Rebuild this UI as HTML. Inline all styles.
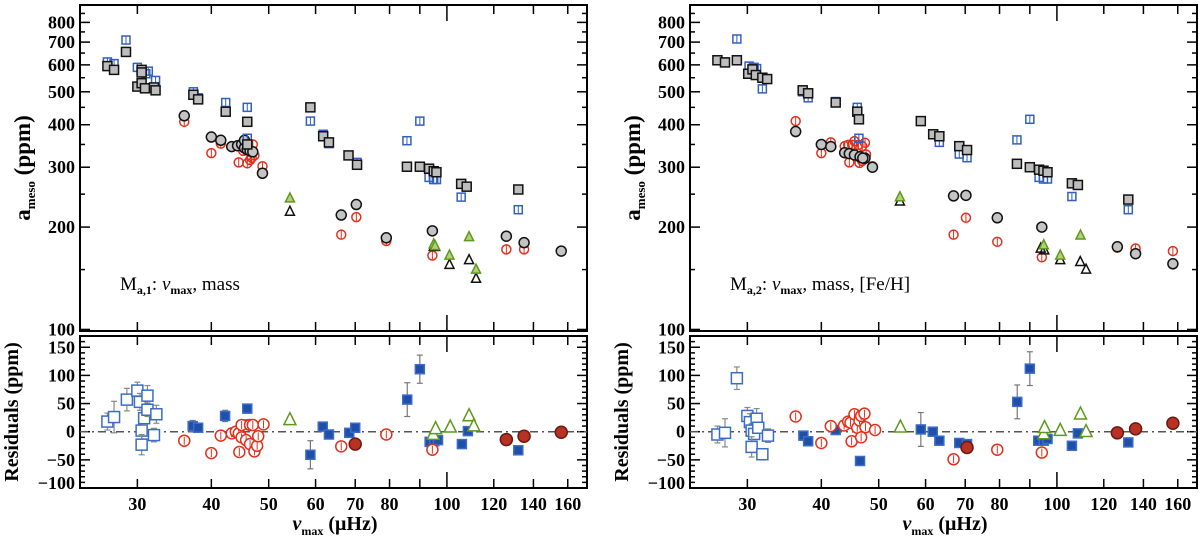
<!DOCTYPE html>
<html><head><meta charset="utf-8"><style>
html,body{margin:0;padding:0;background:#fff;width:1200px;height:538px;overflow:hidden}
svg{display:block;font-family:"Liberation Serif",serif}
</style></head><body>
<svg id="fig" width="1200" height="538" viewBox="0 0 1200 538"></svg>
<script>
// ---------- data (nu_max [uHz], amplitude / residual [ppm], error) ----------
const L_graySq=[[26.7,595],[27.4,580],[28.7,655],[30.5,580],[30.5,570],[30,518],[30.5,530],[30.9,512],[32,515],[32.2,505],[37.3,490],[38,475],[42.3,437],[46,408],[46,350],[58.8,450],[61.8,370],[63.2,355],[68.2,325],[70.5,305],[85.6,301],[90,301],[93.3,297],[95,292],[96,290],[105.7,268],[108,263],[132,258]];
const L_blueSq=[[26.7,612],[27.4,605],[28.7,710],[30,590],[31,565],[31.3,575],[32.2,540],[37.3,500],[38,480],[42.3,465],[46,450],[46,365],[58.8,410],[61.8,375],[63.2,352],[70.5,310],[85.6,359],[90,410],[93.3,280],[95,276],[96,276],[105.7,245],[132,225]];
const L_grayCirc=[[36,425],[40,368],[41.5,360],[43.3,345],[44.3,347],[45,350],[45.5,342],[46,338],[46.5,335],[47,333],[45.5,360],[48.8,288],[66.3,217],[70.3,233],[79,186],[94.5,195],[126,188],[135,180],[156,170]];
const L_redCirc=[[36,408],[40,330],[41.5,352],[44.5,310],[46,308],[46.5,315],[47,350],[47.3,325],[45.3,335],[48.8,302],[46.8,320],[66.3,190],[70.3,214],[79,182],[94.5,165],[126,172],[135,172]];
const L_greenTri=[[54.3,243],[95,178],[95.5,176],[101,165],[109,187],[112,150]];
const L_blackTri=[[54.3,222],[95,175],[95.5,175],[101,155],[109,160],[112,141]];
const L_resBlueOpen=[[26.7,18,15],[27.4,26,28],[28.8,57,20],[30,73,15],[30.3,53,15],[30.5,2,15],[30.5,-23,18],[30.8,24,12],[31.2,64,18],[31.2,39,12],[32.3,31,16],[32,-6,12]];
const L_resBlueFill=[[37.2,10,10],[38,7,8],[42.2,28,10],[46,41,8],[46,13,6],[58.8,-41,25],[61.7,9,0],[63.2,-5,0],[68.4,-2,0],[70,7,0],[85.7,57,30],[90,111,25],[93.5,-18,0],[95.2,-17,0],[96.6,-15,0],[106,-22,0],[108.5,1,0],[132,-33,0]];
const L_resRedOpen=[[36,-16],[40,-38],[41.5,-7],[43.3,-3],[44,0],[44.5,-3],[45,-10],[44.6,-36],[45,12],[46.5,12],[47,12],[49,13],[45.8,-15],[46.5,-22],[47.3,-35],[47.8,-25],[48,-8],[66.3,-26],[79,-5],[94.5,-32]];
const L_resRedFill=[[70,-22],[126,-14],[135,-8],[156,-1]];
const L_resGreenTri=[[54.3,21],[94.8,-5],[95.7,5],[101.3,8],[109,28],[111,10]];

const R_graySq=[[26.7,619],[27.5,610],[28.8,619],[30.1,565],[30.6,582],[31,560],[31.8,550],[32.4,545],[37.2,505],[38,495],[42.3,465],[46,437],[46.3,415],[58.9,410],[61.8,375],[63.3,370],[68.4,346],[70.5,337],[85.6,307],[90,300],[93.3,295],[94.9,293],[96.4,290],[106,269],[108.5,266],[132,241]];
const R_blueSq=[[26.7,620],[27.5,612],[28.8,715],[30.2,595],[30.8,590],[31.1,585],[31.8,510],[37.2,500],[38,480],[42.3,468],[46,450],[46.3,365],[58.9,410],[63.3,355],[68.4,328],[70.5,320],[85.6,361],[90,415],[93.3,280],[94.9,277],[96.4,277],[106,246],[132,225]];
const R_grayCirc=[[36.2,382],[40,350],[41.5,345],[43.8,331],[44.6,329],[45.5,326],[46.5,322],[47.4,319],[47,319],[48.8,300],[66.9,247],[70.2,248],[79.3,213],[94.3,200],[126.5,175],[135.8,167],[157,156]];
const R_redCirc=[[36.2,410],[40,330],[41.5,355],[43.8,346],[44.4,349],[45.1,349],[45.5,358],[46.2,349],[46.9,346],[47.4,354],[47.6,327],[44.6,310],[46.4,309],[46.9,313],[48.8,302],[66.9,190],[70.2,213],[79.3,181],[94.3,163],[126.5,174],[135.8,173],[157,170]];
const R_greenTri=[[54.3,245],[95,177],[101.3,165],[109.6,189]];
const R_blackTri=[[54.3,238],[93.9,173],[95.2,171],[101.3,160],[109.5,158],[112,150]];
const R_resBlueOpen=[[26.7,-5,15],[27.5,-2,25],[28.8,95,20],[30,28,15],[30.3,17,15],[30.5,2,12],[30.8,-4,10],[30.5,-27,18],[31.1,23,18],[31.3,7,10],[31.8,-40,10],[32.5,-7,12]];
const R_resBlueFill=[[37.3,-7,8],[38,-17,8],[42.3,3,8],[46.5,-52,6],[46.5,13,0],[58.9,4,30],[61.7,0,0],[63.3,-16,0],[68.4,-20,0],[70.5,-22,0],[85.7,53,30],[90,112,30],[93,-16,0],[95,-16,0],[96.4,-13,0],[106,-25,0],[108.5,-3,0],[132,-19,0]];
const R_resRedOpen=[[36.2,27],[40,-20],[41.5,10],[43.7,11],[44.4,18],[44.8,16],[45.5,31],[46,7],[46.4,20],[46.7,28],[47.3,32],[47.5,8],[49.3,3],[45,-17],[46.7,-10],[66.9,-49],[79.3,-32],[94.3,-37]];
const R_resRedFill=[[70.5,-28],[126.5,-2],[135.8,5],[157,15]];
const R_resGreenTri=[[54.4,8],[95,-4],[95.3,7],[101.3,2],[109.6,31],[112,0]];

const xTicks=[30,40,50,60,70,80,100,120,140,160];
const xMinor=[90];
const yTicksTop=[100,200,300,400,500,600,700,800];
const yMinorTop=[150,250,350,450,550,650,750,850,900];
const yTicksRes=[-100,-50,0,50,100,150];

// ---------- drawing ----------
const NS="http://www.w3.org/2000/svg";
const svg=document.getElementById('fig');
function mk(tag,attrs,parent){const e=document.createElementNS(NS,tag);for(const k in attrs)e.setAttribute(k,attrs[k]);(parent||svg).appendChild(e);return e;}

function panel(off,name,d,label1,label2){
  const X0=80+off, X1=587+off, TT=5, TB=331, RT=336, RB=488;
  const g=mk('g',{});
  
  
  const xs=v=>X0+(Math.log10(v)-Math.log10(24))*592;
  const ya=a=>5+(Math.log10(900)-Math.log10(a))*340;
  const yr=r=>431.7-r*0.563;

  const f1=mk('rect',{x:X0,y:TT,width:X1-X0,height:TB-TT,fill:'none',stroke:'#000','stroke-width':2},g);
  
  
  const f2=mk('rect',{x:X0,y:RT,width:X1-X0,height:RB-RT,fill:'none',stroke:'#000','stroke-width':2},g);
  
  

  xTicks.forEach(v=>{
    const x=xs(v), L=(v===100)?16:9;
    [[TT,1],[TB,-1],[RT,1],[RB,-1]].forEach(([y,s])=>mk('line',{x1:x,x2:x,y1:y,y2:y+s*L,stroke:'#000','stroke-width':1.5},g));
    const t=mk('text',{x:x,y:510,'text-anchor':'middle','font-size':18,'font-weight':'bold'},g);
    t.textContent=v;
    
    
  });
  xMinor.forEach(v=>{const x=xs(v);[[TT,1],[TB,-1],[RT,1],[RB,-1]].forEach(([y,s])=>mk('line',{x1:x,x2:x,y1:y,y2:y+s*9,stroke:'#000','stroke-width':1.5},g));});
  yTicksTop.forEach(a=>{
    const y=ya(a);
    mk('line',{x1:X0,x2:X0+10,y1:y,y2:y,stroke:'#000','stroke-width':1.5},g);
    mk('line',{x1:X1,x2:X1-10,y1:y,y2:y,stroke:'#000','stroke-width':1.5},g);
    const t=mk('text',{x:X0-5,y:y+6,'text-anchor':'end','font-size':18,'font-weight':'bold'},g);
    t.textContent=a;
    
    
  });
  yMinorTop.forEach(a=>{const y=ya(a);mk('line',{x1:X0,x2:X0+5,y1:y,y2:y,stroke:'#000','stroke-width':1.5},g);mk('line',{x1:X1,x2:X1-5,y1:y,y2:y,stroke:'#000','stroke-width':1.5},g);});
  for(let r=-100;r<=170;r+=10){
    const y=yr(r), maj=(r%50===0);
    mk('line',{x1:X0,x2:X0+(maj?10:5),y1:y,y2:y,stroke:'#000','stroke-width':1.5},g);
    mk('line',{x1:X1,x2:X1-(maj?10:5),y1:y,y2:y,stroke:'#000','stroke-width':1.5},g);
  }
  yTicksRes.forEach(r=>{
    const y=yr(r);
    const t=mk('text',{x:X0-5,y:Math.min(y+6,489),'text-anchor':'end','font-size':18,'font-weight':'bold'},g);
    t.textContent=(r<0?'\u2212':'')+Math.abs(r);
    
    
  });
  const z=mk('line',{x1:X0,x2:X1,y1:yr(0),y2:yr(0),stroke:'#555','stroke-width':1.5,'stroke-dasharray':'8,4,2,4'},g);
  
  

  const yt=mk('text',{transform:`translate(${off+30},168) rotate(-90)`,'text-anchor':'middle','font-size':23,'font-weight':'bold'},g);
  yt.innerHTML='a<tspan font-size="13" dy="5">meso</tspan><tspan dy="-5"> (ppm)</tspan>';
  
  
  const rt=mk('text',{transform:`translate(${off+18},412) rotate(-90)`,'text-anchor':'middle','font-size':20,'font-weight':'bold'},g);
  rt.textContent='Residuals (ppm)';
  
  
  const xt=mk('text',{x:off+335,y:530,'text-anchor':'middle','font-size':20,'font-weight':'bold'},g);
  xt.innerHTML='<tspan font-style="italic">\u03bd</tspan><tspan font-size="12" dy="5">max</tspan><tspan dy="-5"> (\u03bcHz)</tspan>';
  
  
  const lab=mk('text',{x:off+120,y:290,'font-size':19},g);
  lab.innerHTML='M<tspan font-size="12" dy="4" font-weight="bold">'+label1+'</tspan><tspan dy="-4">: </tspan><tspan font-style="italic">\u03bd</tspan><tspan font-size="12" dy="4" font-weight="bold">max</tspan><tspan dy="-4">, '+label2+'</tspan>';
  
  

  function errbar(x,y1,y2,col){mk('line',{x1:x,x2:x,y1:y1,y2:y2,stroke:col,'stroke-width':1.2},g);mk('line',{x1:x-3,x2:x+3,y1:y1,y2:y1,stroke:col,'stroke-width':1.2},g);mk('line',{x1:x-3,x2:x+3,y1:y2,y2:y2,stroke:col,'stroke-width':1.2},g);}
  function sq(x,y,s,fill,stroke,nm){const e=mk('rect',{x:x-s/2,y:y-s/2,width:s,height:s,fill:fill,stroke:stroke,'stroke-width':1.5},g);}
  function ci(x,y,r,fill,stroke,nm){const e=mk('circle',{cx:x,cy:y,r:r,fill:fill,stroke:stroke,'stroke-width':1.5},g);}
  function tri(x,y,s,fill,stroke,nm){const e=mk('polygon',{points:`${x},${y-s*0.6} ${x-s/2},${y+s*0.4} ${x+s/2},${y+s*0.4}`,fill:fill,stroke:stroke,'stroke-width':1.5},g);}

  d.redCirc.forEach(p=>{const x=xs(p[0]),y=ya(p[1]);ci(x,y,4.5,'none','#e2301c','red-circle-point');mk('line',{x1:x,x2:x,y1:y-4,y2:y+4,stroke:'#e2301c','stroke-width':1},g);});
  d.grayCirc.forEach(p=>ci(xs(p[0]),ya(p[1]),5,'#c4c4c4','#111','gray-circle-point'));
  d.blueSq.forEach(p=>{const x=xs(p[0]),y=ya(p[1]);sq(x,y,8,'none','#3360c0','blue-square-point');mk('line',{x1:x,x2:x,y1:y-4,y2:y+4,stroke:'#3360c0','stroke-width':1},g);});
  d.graySq.forEach(p=>sq(xs(p[0]),ya(p[1]),9,'#bdbdbd','#111','gray-square-point'));
  d.blackTri.forEach(p=>tri(xs(p[0]),ya(p[1]),9,'none','#111','black-triangle-point'));
  d.greenTri.forEach(p=>tri(xs(p[0]),ya(p[1]),9,'#b8cc80','#5c9a1c','green-triangle-point'));

  d.resBlueOpen.forEach(p=>{const x=xs(p[0]),y=yr(p[1]);if(p[2])errbar(x,yr(p[1]+p[2]),yr(p[1]-p[2]),'#888');sq(x,y,11,'#fff','#3a6cc8','residual-open-square');});
  d.resBlueFill.forEach(p=>{const x=xs(p[0]),y=yr(p[1]);if(p[2])errbar(x,yr(p[1]+p[2]),yr(p[1]-p[2]),'#777');sq(x,y,9,'#1f4fa8','#3a6cc8','residual-filled-square');});
  d.resRedOpen.forEach(p=>{const x=xs(p[0]),y=yr(p[1]);ci(x,y,5.5,'#fff','#e2301c','residual-open-circle');mk('line',{x1:x,x2:x,y1:y-4,y2:y+4,stroke:'#e2301c','stroke-width':1},g);});
  d.resRedFill.forEach(p=>ci(xs(p[0]),yr(p[1]),6,'#b83224','#6a1a12','residual-filled-circle'));
  d.resGreenTri.forEach(p=>tri(xs(p[0]),yr(p[1]),12,'#fff','#5c9a1c','residual-green-triangle'));
}

panel(0,'left-panel',{graySq:L_graySq,blueSq:L_blueSq,grayCirc:L_grayCirc,redCirc:L_redCirc,greenTri:L_greenTri,blackTri:L_blackTri,resBlueOpen:L_resBlueOpen,resBlueFill:L_resBlueFill,resRedOpen:L_resRedOpen,resRedFill:L_resRedFill,resGreenTri:L_resGreenTri},'a,1','mass');
panel(610,'right-panel',{graySq:R_graySq,blueSq:R_blueSq,grayCirc:R_grayCirc,redCirc:R_redCirc,greenTri:R_greenTri,blackTri:R_blackTri,resBlueOpen:R_resBlueOpen,resBlueFill:R_resBlueFill,resRedOpen:R_resRedOpen,resRedFill:R_resRedFill,resGreenTri:R_resGreenTri},'a,2','mass, [Fe/H]');
</script>
</body></html>
